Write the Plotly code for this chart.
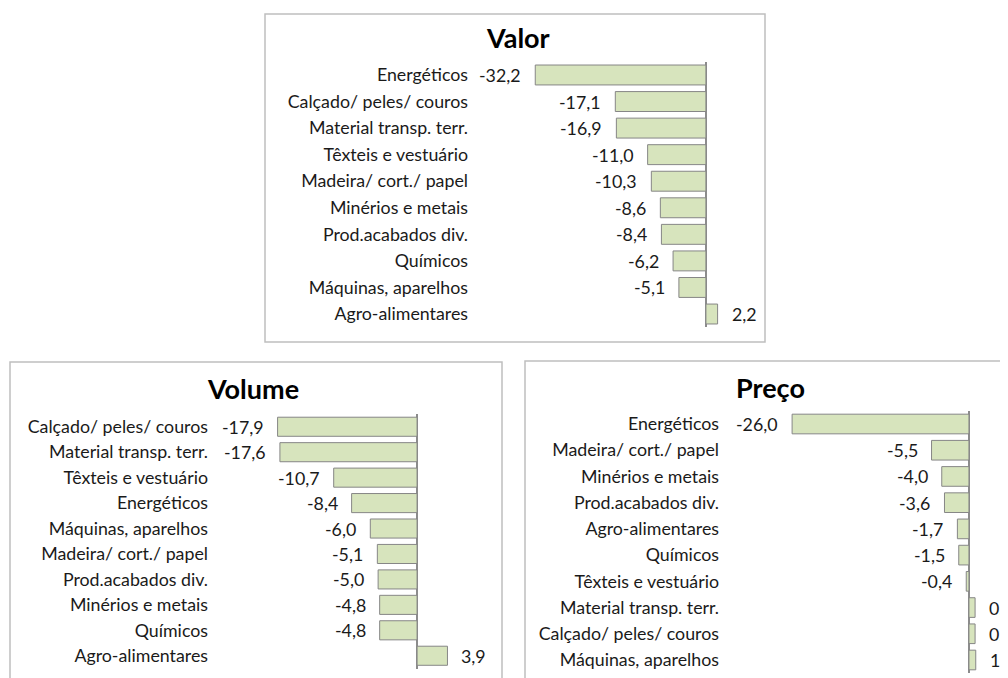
import plotly.graph_objects as go

# Valor
valor_cats = ["Energéticos", "Calçado/ peles/ couros", "Material transp. terr.", "Têxteis e vestuário",
              "Madeira/ cort./ papel", "Minérios e metais", "Prod.acabados div.", "Químicos",
              "Máquinas, aparelhos", "Agro-alimentares"]
valor_vals = [-32.2, -17.1, -16.9, -11.0, -10.3, -8.6, -8.4, -6.2, -5.1, 2.2]

# Volume
volume_cats = ["Calçado/ peles/ couros", "Material transp. terr.", "Têxteis e vestuário", "Energéticos",
               "Máquinas, aparelhos", "Madeira/ cort./ papel", "Prod.acabados div.", "Minérios e metais",
               "Químicos", "Agro-alimentares"]
volume_vals = [-17.9, -17.6, -10.7, -8.4, -6.0, -5.1, -5.0, -4.8, -4.8, 3.9]

# Preço
preco_cats = ["Energéticos", "Madeira/ cort./ papel", "Minérios e metais", "Prod.acabados div.",
              "Agro-alimentares", "Químicos", "Têxteis e vestuário", "Material transp. terr.",
              "Calçado/ peles/ couros", "Máquinas, aparelhos"]
preco_vals = [-26.0, -5.5, -4.0, -3.6, -1.7, -1.5, -0.4, 0.9, 0.9, 1.0]

# page body has an 8px margin, so the figure is 8px smaller and everything below
# is given in page pixels and shifted back by OFF
OFF = 8
W, H = 1008 - OFF, 678 - OFF
FONT = "Lato"
TXT = "#1a1a1a"
FS = 17.8


def px_x(x):
    return (x - OFF) / W


def px_y(y):
    return 1 - (y - OFF) / H


panels = [
    # title, cats, vals, x-range, x px domain, y px domain, title pos px
    ("Valor", valor_cats, valor_vals, [-44.7, 10.2], (469, 760), (61.7, 327.3), (518, 37)),
    ("Volume", volume_cats, volume_vals, [-26.7, 10], (209, 495), (413.75, 668.75), (253, 388)),
    ("Preço", preco_cats, preco_vals, [-36.6, 5.74], (720, 1008), (410.9, 673.1), (770, 387)),
]

fig = go.Figure()
annotations = []
for i, (title, cats, vals, xr, xd, yd, tpos) in enumerate(panels):
    n = "" if i == 0 else str(i + 1)
    fig.add_trace(go.Bar(
        x=vals, y=cats, orientation="h",
        marker=dict(color="#D7E4BD", line=dict(color="#868686", width=1)),
        width=0.75, xaxis="x" + n, yaxis="y" + n, showlegend=False, hoverinfo="skip",
    ))
    fig.update_layout(**{
        "xaxis" + n: dict(domain=[px_x(xd[0]), min(px_x(xd[1]), 1)], range=xr, showgrid=False,
                          showticklabels=False, zeroline=True, zerolinecolor="#8C8C8C",
                          zerolinewidth=1.5, anchor="y" + n, fixedrange=True),
        "yaxis" + n: dict(domain=[px_y(yd[1]), px_y(yd[0])], autorange="reversed",
                          showgrid=False, ticks="", anchor="x" + n, showline=False,
                          tickfont=dict(family=FONT, size=FS, color=TXT), fixedrange=True),
    })
    for c, v in zip(cats, vals):
        annotations.append(dict(
            x=v, y=c, xref="x" + n, yref="y" + n, showarrow=False,
            text=f"{v:.1f}".replace(".", ","),
            xanchor="right" if v < 0 else "left", xshift=-12 if v < 0 else 12,
            font=dict(family=FONT, size=FS, color=TXT),
        ))
    annotations.append(dict(
        x=px_x(tpos[0]), y=px_y(tpos[1]), xref="paper", yref="paper", showarrow=False,
        text=f"<b>{title}</b>", xanchor="center", yanchor="middle",
        font=dict(family=FONT, size=27, color="#000000"),
    ))

box = dict(type="rect", xref="paper", yref="paper", line=dict(color="#BFBFBF", width=1.5),
           fillcolor="rgba(0,0,0,0)", layer="below")
shapes = [
    dict(box, x0=px_x(265), x1=px_x(765), y0=px_y(342), y1=px_y(14)),
    dict(box, x0=px_x(10), x1=px_x(502), y0=-0.03, y1=px_y(362)),
    dict(box, x0=px_x(525), x1=1.02, y0=-0.03, y1=px_y(361)),
]

fig.update_layout(
    width=W, height=H, margin=dict(l=0, r=0, t=0, b=0),
    paper_bgcolor="white", plot_bgcolor="rgba(0,0,0,0)",
    bargap=0.25, annotations=annotations, shapes=shapes,
    font=dict(family=FONT, color=TXT),
)

fig.write_html("out.html")
